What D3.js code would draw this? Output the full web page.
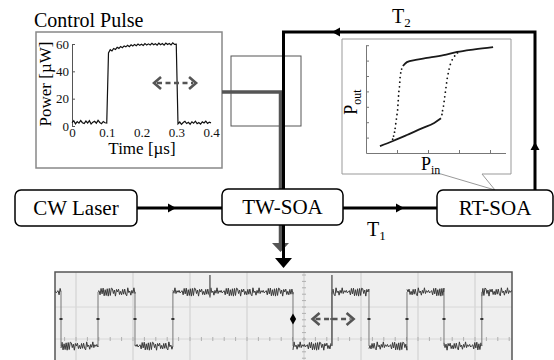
<!DOCTYPE html>
<html>
<head>
<meta charset="utf-8">
<script src="https://cdnjs.cloudflare.com/ajax/libs/d3/7.8.5/d3.min.js"></script>
<style>
  body { margin: 0; background: #fff; }
  svg { display: block; }
  text { font-family: "Liberation Serif", "Times New Roman", "DejaVu Serif", serif; }
</style>
</head>
<body>
<svg id="chart" width="554" height="360"></svg>
<script>
// control pulse, one sample every 5 ns, power in uW
const pulseStep = 0.005;
const pulsePower = [
  2.5, 3.8, 1.6, 3.2, 2.1, 4.0, 2.4, 1.8, 3.6, 2.2, 3.9, 1.5, 2.8, 3.4, 2.0, 4.1, 2.6, 1.7, 3.3, 2.4, 2.2,
  53.5, 55.8, 54.9, 56.7, 56.0, 57.6, 56.8, 58.2, 57.3, 58.6, 57.9, 59.1, 58.0, 59.4, 58.5, 59.7, 58.8, 60.0, 59.0, 59.8,
  58.9, 60.3, 59.2, 60.1, 59.3, 60.5, 59.4, 60.2, 59.1, 60.6, 59.5, 60.3, 59.2, 60.7, 59.6, 60.4, 59.3, 60.8, 59.7, 59.9,
  1.6, 2.9, 1.2, 2.5, 3.4, 1.8, 2.7, 1.3, 3.1, 2.0, 3.5, 1.7, 2.6, 1.4, 3.0, 2.2, 3.6, 1.9, 2.8, 2.3
];
const pulseTimeTicks = [0, 0.1, 0.2, 0.3, 0.4];
const pulsePowerTicks = [0, 20, 40, 60];

// hysteresis loop of the RT-SOA, P_out against P_in (arb. units)
const hystLower = [[0.45, 0.45], [0.87, 0.78], [1.3, 1.15], [1.8, 1.6], [2.2, 1.95], [2.42, 2.25]];
const hystUpper = [[1.19, 5.65], [1.32, 5.9], [1.6, 6.05], [1.97, 6.17], [2.5, 6.35], [2.94, 6.56], [3.5, 6.73], [4.1, 6.88]];
const hystRise = [[2.45, 2.5], [2.47, 2.75], [2.5, 3.05], [2.52, 3.35], [2.54, 3.65], [2.56, 3.95], [2.58, 4.25],
  [2.6, 4.55], [2.62, 4.85], [2.65, 5.15], [2.68, 5.45], [2.72, 5.75], [2.78, 6.05], [2.86, 6.3], [2.95, 6.5]];
const hystFall = [[1.15, 5.45], [1.12, 5.2], [1.1, 4.9], [1.09, 4.6], [1.08, 4.3], [1.06, 4.0], [1.05, 3.7],
  [1.04, 3.4], [1.03, 3.1], [1.02, 2.8], [1.0, 2.5], [0.98, 2.2], [0.96, 1.9], [0.94, 1.6], [0.92, 1.35],
  [0.89, 1.1], [0.86, 0.9]];
const hystTicksX = [1, 2, 3, 4];
const hystTicksY = [1, 2, 3, 4, 5, 6, 7];

// output waveform on the scope, edge times in divisions, trace starts high
const scopeEdges = [-0.263, 0.386, 1.035, 1.70, 3.807, 4.49, 5.14, 5.807, 6.456, 7.12];
const scopeLevels = [1.47, -0.22];
const scopeNoise = [0.05, -0.11, 0.09, -0.03, 0.12, -0.07, 0.01, 0.1, -0.12, 0.04, -0.05, 0.13, -0.09, 0.06,
  -0.02, 0.11, -0.13, 0.03, -0.06, 0.08, -0.1, 0.12, 0.0, 0.05, -0.12, 0.09, -0.04, 0.07, -0.08, 0.13,
  -0.11, 0.02, -0.05, 0.1, -0.09, 0.04, -0.13, 0.08, -0.01, 0.11, -0.07];
const scopeGridX = [0, 1, 2, 3, 4, 5, 6, 7];
const scopeGridY = [1, 0];
const scopeMarkers = [[2.35, 2.0, 1.3], [4.49, 2.0, -0.2]];

const svg = d3.select('#chart');
const serif = '"Liberation Serif", "Times New Roman", serif';

function arrowHead(g, x, y, dir, len, half, color) {
  // dir: 'r', 'l', 'u', 'd' - tip at (x, y)
  const pts = {
    r: [[x, y], [x - len, y - half], [x - len, y + half]],
    l: [[x, y], [x + len, y - half], [x + len, y + half]],
    u: [[x, y], [x - half, y + len], [x + half, y + len]],
    d: [[x, y], [x - half, y - len], [x + half, y - len]]
  }[dir];
  g.append('path').attr('d', 'M' + pts.join('L') + 'Z').attr('fill', color);
}

function dashedArrow(g, x1, x2, y) {
  g.append('line')
    .attr('x1', x1 + 3).attr('x2', x2 - 3).attr('y1', y).attr('y2', y)
    .attr('stroke', '#555').attr('stroke-width', 2.6).attr('stroke-dasharray', '5,3.5');
  g.append('path')
    .attr('d', `M${x1 + 7},${y - 6}L${x1},${y}L${x1 + 7},${y + 6}M${x2 - 7},${y - 6}L${x2},${y}L${x2 - 7},${y + 6}`)
    .attr('fill', 'none').attr('stroke', '#555').attr('stroke-width', 2.6);
}

// ---- scope screen ----
function drawScope() {
  const x = d3.scaleLinear().domain([0, 7]).range([76, 475]);
  const y = d3.scaleLinear().domain([0, 2]).range([339, 275]);
  const g = svg.append('g');
  g.append('clipPath').attr('id', 'scopeClip')
    .append('rect').attr('x', 55).attr('y', 272).attr('width', 457).attr('height', 100);
  g.append('rect').attr('x', 55).attr('y', 272).attr('width', 457).attr('height', 100)
    .attr('fill', '#efefef');
  const inner = g.append('g').attr('clip-path', 'url(#scopeClip)');

  inner.selectAll('.gx').data(scopeGridX).enter().append('line')
    .attr('x1', d => x(d)).attr('x2', d => x(d)).attr('y1', 272).attr('y2', 372)
    .attr('stroke', '#d2d2d2').attr('stroke-width', 1.2);
  inner.selectAll('.gy').data(scopeGridY).enter().append('line')
    .attr('x1', 55).attr('x2', 512).attr('y1', d => y(d)).attr('y2', d => y(d))
    .attr('stroke', '#d8d8d8').attr('stroke-width', 1);

  // minor ticks on the centre axes
  const minorX = d3.range(-0.4, 7.7, 0.2);
  inner.selectAll('.mx').data(minorX).enter().append('line')
    .attr('x1', d => x(d)).attr('x2', d => x(d)).attr('y1', y(0) - 2).attr('y2', y(0) + 2)
    .attr('stroke', '#b0b0b0');
  const minorY = d3.range(-1, 2.2, 0.2);
  inner.selectAll('.my').data(minorY).enter().append('line')
    .attr('x1', x(4) - 2).attr('x2', x(4) + 2).attr('y1', d => y(d)).attr('y2', d => y(d))
    .attr('stroke', '#b0b0b0');

  // trace
  const bounds = [x.invert(55)].concat(scopeEdges, [x.invert(512)]);
  const line = d3.line().x(d => x(d[0])).y(d => y(d[1]));
  let k = 0;
  for (let s = 0; s < bounds.length - 1; s++) {
    const lvl = scopeLevels[s % 2];
    const pts = [];
    for (let t = bounds[s]; t <= bounds[s + 1]; t += 0.018) {
      pts.push([t, lvl + scopeNoise[k % scopeNoise.length]]);
      k += 3;
    }
    pts.push([bounds[s + 1], lvl]);
    inner.append('path').attr('d', line(pts))
      .attr('fill', 'none').attr('stroke', '#3a3a3a').attr('stroke-width', 1);
  }
  inner.selectAll('.edge').data(scopeEdges).enter().append('line')
    .attr('x1', d => x(d)).attr('x2', d => x(d))
    .attr('y1', y(scopeLevels[0])).attr('y2', y(scopeLevels[1]))
    .attr('stroke', '#777').attr('stroke-width', 1);
  inner.selectAll('.edot').data(scopeEdges).enter().append('rect')
    .attr('x', d => x(d) - 1.5).attr('y', y(0.625) - 1).attr('width', 3).attr('height', 2)
    .attr('fill', '#333');
  inner.selectAll('.mark').data(scopeMarkers).enter().append('line')
    .attr('x1', d => x(d[0])).attr('x2', d => x(d[0]))
    .attr('y1', d => y(d[1])).attr('y2', d => y(d[2]))
    .attr('stroke', '#666').attr('stroke-width', 1.5);
  inner.append('path')
    .attr('d', d3.symbol(d3.symbolDiamond, 34)())
    .attr('transform', `translate(${x(scopeEdges[4])},${y(0.625)})`)
    .attr('fill', '#000');
  dashedArrow(inner, x(4.15), x(4.87), y(0.625));

  g.append('rect').attr('x', 55).attr('y', 272).attr('width', 457).attr('height', 100)
    .attr('fill', 'none').attr('stroke', '#555').attr('stroke-width', 1.5);
}

// ---- control pulse inset ----
function drawPulse() {
  const g = svg.append('g');
  const x = d3.scaleLinear().domain([0, 0.4]).range([72, 211]);
  const y = d3.scaleLinear().domain([0, 60]).range([126, 44]);

  g.append('text').attr('x', 34).attr('y', 27).attr('font-size', 20)
    .attr('font-family', serif).text('Control Pulse');
  g.append('rect').attr('x', 36).attr('y', 32).attr('width', 186).attr('height', 136)
    .attr('fill', '#fff').attr('stroke', '#888').attr('stroke-width', 1.5);

  const yAxis = g.append('g').attr('transform', `translate(${x(0)},0)`)
    .call(d3.axisLeft(y).tickValues(pulsePowerTicks).tickSize(-3).tickSizeOuter(0).tickPadding(3));
  yAxis.select('.domain').attr('stroke', '#555');
  yAxis.selectAll('.tick line').attr('stroke', '#555');
  yAxis.attr('font-family', serif).attr('font-size', 13);
  yAxis.selectAll('text').attr('fill', '#111');

  const xAxis = g.append('g').attr('transform', `translate(0,${y(0)})`)
    .call(d3.axisBottom(x).tickValues(pulseTimeTicks).tickSize(0).tickPadding(2)
      .tickFormat(d => d === 0 ? '0' : d3.format('.1f')(d)));
  xAxis.select('.domain').remove();
  xAxis.attr('font-family', serif).attr('font-size', 13);
  xAxis.selectAll('text').attr('fill', '#111');

  g.append('path')
    .attr('d', d3.line().x((d, i) => x(i * pulseStep)).y(d => y(d))(pulsePower))
    .attr('fill', 'none').attr('stroke', '#111').attr('stroke-width', 1.2);

  g.append('text').attr('x', 142).attr('y', 154).attr('text-anchor', 'middle')
    .attr('font-family', serif).attr('font-size', 17).text('Time [µs]');
  g.append('text').attr('transform', 'translate(51,84) rotate(-90)').attr('text-anchor', 'middle')
    .attr('font-family', serif).attr('font-size', 17).text('Power [µW]');

  dashedArrow(g, x(0.236), x(0.357), y(31.5));
}

// ---- hysteresis callout ----
function drawHysteresis() {
  const g = svg.append('g');
  const x = d3.scaleLinear().domain([0, 4.5]).range([366, 505.5]);
  const y = d3.scaleLinear().domain([0, 7]).range([153, 45.2]);

  g.append('path')
    .attr('d', 'M342,39H511V174H482L495,190L441,174H342Z')
    .attr('fill', '#fff').attr('stroke', '#999').attr('stroke-width', 1);

  const yAxis = g.append('g').attr('transform', `translate(${x(0)},0)`)
    .call(d3.axisLeft(y).tickValues(hystTicksY).tickSize(-3).tickSizeOuter(0).tickFormat(''));
  const xAxis = g.append('g').attr('transform', `translate(0,${y(0)})`)
    .call(d3.axisBottom(x).tickValues(hystTicksX).tickSize(-3).tickSizeOuter(0).tickFormat(''));
  [xAxis, yAxis].forEach(a => {
    a.select('.domain').attr('stroke', '#777');
    a.selectAll('.tick line').attr('stroke', '#777');
  });

  const line = d3.line().x(d => x(d[0])).y(d => y(d[1])).curve(d3.curveMonotoneX);
  [hystLower, hystUpper].forEach(b => {
    g.append('path').attr('d', line(b))
      .attr('fill', 'none').attr('stroke', '#1a1a1a').attr('stroke-width', 1.8);
  });
  g.selectAll('.dot').data(hystRise.concat(hystFall)).enter().append('circle')
    .attr('cx', d => x(d[0])).attr('cy', d => y(d[1])).attr('r', 0.9)
    .attr('fill', '#111');

  const pout = g.append('text').attr('transform', 'translate(357,102) rotate(-90)')
    .attr('text-anchor', 'middle').attr('font-family', serif).attr('font-size', 18);
  pout.append('tspan').text('P');
  pout.append('tspan').attr('font-size', 12).attr('dy', 4).text('out');

  const pin = g.append('text').attr('x', 421).attr('y', 170)
    .attr('font-family', serif).attr('font-size', 18);
  pin.append('tspan').text('P');
  pin.append('tspan').attr('font-size', 12).attr('dy', 4).text('in');
}

// ---- optical paths and blocks ----
function drawSetup() {
  const g = svg.append('g');

  g.append('rect').attr('x', 231).attr('y', 56).attr('width', 70).attr('height', 70)
    .attr('fill', 'none').attr('stroke', '#555').attr('stroke-width', 1);

  // control pulse path (grey)
  g.append('path').attr('d', 'M222,92H280.5V244')
    .attr('fill', 'none').attr('stroke', '#555').attr('stroke-width', 3.5);
  arrowHead(g, 280.5, 252, 'd', 9, 8.5, '#555');

  // feedback loop and output (black)
  g.append('path').attr('d', 'M283.5,259V32H535V191')
    .attr('fill', 'none').attr('stroke', '#000').attr('stroke-width', 3);
  arrowHead(g, 283.5, 268, 'd', 10, 8.5, '#000');
  arrowHead(g, 332, 32, 'l', 8, 4.5, '#000');
  arrowHead(g, 535, 142, 'u', 8, 4.5, '#000');

  g.append('line').attr('x1', 137).attr('x2', 222).attr('y1', 208).attr('y2', 208)
    .attr('stroke', '#000').attr('stroke-width', 2.8);
  arrowHead(g, 176, 208, 'r', 8, 4.5, '#000');
  g.append('line').attr('x1', 343).attr('x2', 437).attr('y1', 208).attr('y2', 208)
    .attr('stroke', '#000').attr('stroke-width', 2.8);
  arrowHead(g, 404, 208, 'r', 8, 4.5, '#000');

  const boxes = [
    { label: 'CW Laser', x: 15, y: 190, w: 122, h: 36 },
    { label: 'TW-SOA', x: 222, y: 189, w: 121, h: 36 },
    { label: 'RT-SOA', x: 437, y: 190, w: 116, h: 36 }
  ];
  boxes.forEach(b => {
    g.append('rect').attr('x', b.x).attr('y', b.y).attr('width', b.w).attr('height', b.h)
      .attr('rx', 6).attr('fill', '#fff').attr('stroke', '#000').attr('stroke-width', 1.5);
    g.append('text').attr('x', b.x + b.w / 2).attr('y', b.y + b.h / 2 + 7)
      .attr('text-anchor', 'middle').attr('font-family', serif).attr('font-size', 21).text(b.label);
  });

  const t1 = g.append('text').attr('x', 367).attr('y', 236).attr('font-family', serif).attr('font-size', 20);
  t1.append('tspan').text('T');
  t1.append('tspan').attr('font-size', 13).attr('dy', 4).text('1');
  const t2 = g.append('text').attr('x', 392).attr('y', 23).attr('font-family', serif).attr('font-size', 20);
  t2.append('tspan').text('T');
  t2.append('tspan').attr('font-size', 13).attr('dy', 4).text('2');
}

drawScope();
drawPulse();
drawHysteresis();
drawSetup();
</script>
</body>
</html>
